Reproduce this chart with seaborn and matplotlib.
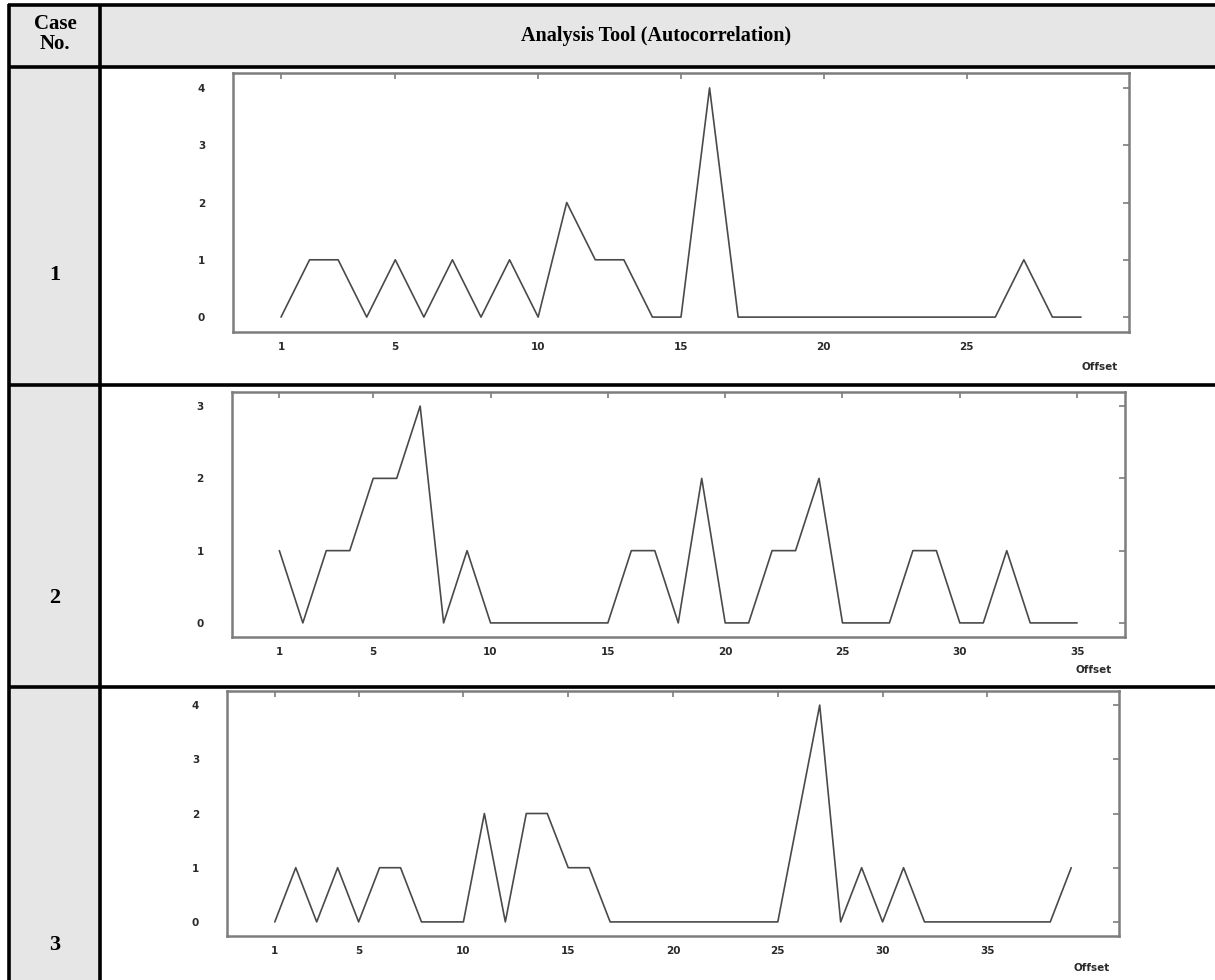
import numpy as np
import pandas as pd
import matplotlib
matplotlib.use("Agg")
import matplotlib.pyplot as plt
import seaborn as sns
from matplotlib.lines import Line2D
from matplotlib.patches import Rectangle

# ---- data ----
case1_offsets = list(range(1, 30))
case1_values = [0, 1, 1, 0, 1, 0, 1, 0, 1, 0, 2, 1, 1, 0, 0, 4, 0, 0, 0, 0,
                0, 0, 0, 0, 0, 0, 1, 0, 0]
case2_offsets = list(range(1, 36))
case2_values = [1, 0, 1, 1, 2, 2, 3, 0, 1, 0, 0, 0, 0, 0, 0, 1, 1, 0, 2, 0,
                0, 1, 1, 2, 0, 0, 0, 1, 1, 0, 0, 1, 0, 0, 0]
case3_offsets = list(range(1, 40))
case3_values = [0, 1, 0, 1, 0, 1, 1, 0, 0, 0, 2, 0, 2, 2, 1, 1, 0, 0, 0, 0,
                0, 0, 0, 0, 0, 2, 4, 0, 1, 0, 1, 0, 0, 0, 0, 0, 0, 0, 1]
case1_xticks = [1, 5, 10, 15, 20, 25]
case2_xticks = [1, 5, 10, 15, 20, 25, 30, 35]
case3_xticks = [1, 5, 10, 15, 20, 25, 30, 35]
case1_yticks = [0, 1, 2, 3, 4]
case2_yticks = [0, 1, 2, 3]
case3_yticks = [0, 1, 2, 3, 4]
case_labels = ["1", "2", "3"]
header_left = "Case\nNo."
header_right = "Analysis Tool (Autocorrelation)"
x_label = "Offset"

sns.set_theme(style="white")
plt.rcParams['font.family'] = ['DejaVu Sans']

W, H = 1215, 980
fig = plt.figure(figsize=(W / 100, H / 100), dpi=100)
fig.patch.set_facecolor("white")

def fx(px):
    return px / W

def fy(py):
    return 1 - py / H

# ---- table background ----
GRAY = "#e6e6e6"
fig.patches.append(Rectangle((fx(9), fy(67)), fx(W - 9), (67 - 5) / H,
                             transform=fig.transFigure, facecolor=GRAY,
                             edgecolor="none", zorder=0))
fig.patches.append(Rectangle((fx(9), 0), fx(100 - 9), fy(67),
                             transform=fig.transFigure, facecolor=GRAY,
                             edgecolor="none", zorder=0))

def hline(y, x0, x1, lw=2.6):
    fig.lines.append(Line2D([fx(x0), fx(x1)], [fy(y), fy(y)],
                            transform=fig.transFigure, color="black", lw=lw,
                            solid_capstyle="butt", zorder=5))

def vline(x, y0, y1, lw=2.6):
    fig.lines.append(Line2D([fx(x), fx(x)], [fy(y0), fy(y1)],
                            transform=fig.transFigure, color="black", lw=lw,
                            solid_capstyle="butt", zorder=5))

hline(5, 8, W)
hline(67, 8, W)
hline(385, 8, W)
hline(687, 8, W)
vline(9, 4, H)
vline(100, 4, H)

serif = ['Liberation Serif', 'DejaVu Serif']
fig.text(fx(55), fy(34), header_left, ha="center", va="center",
         fontsize=15, fontweight="bold", family=serif, linespacing=1.05,
         color="black")
fig.text(fx(656), fy(36), header_right, ha="center", va="center",
         fontsize=14.5, fontweight="bold", family=serif, color="black")
for lab, yy in zip(case_labels, [275, 598, 945]):
    fig.text(fx(55), fy(yy), lab, ha="center", va="center",
             fontsize=16, fontweight="bold", family=serif, color="black")

# ---- charts ----
charts = [
    (case1_offsets, case1_values, case1_xticks, case1_yticks, (233, 1129, 73, 332), (1100, 367)),
    (case2_offsets, case2_values, case2_xticks, case2_yticks, (231.5, 1125, 392, 637), (1094, 670)),
    (case3_offsets, case3_values, case3_xticks, case3_yticks, (227, 1119, 691, 936), (1092, 968)),
]
FRAME = "#7d7d7d"
LINE = "#4a4a4a"
for offs, vals, xt, yt, (l, r, t, b), (ox, oy) in charts:
    ax = fig.add_axes([fx(l), fy(b), (r - l) / W, (b - t) / H])
    df = pd.DataFrame({"Offset": offs, "Value": vals})
    sns.lineplot(data=df, x="Offset", y="Value", ax=ax, color=LINE, lw=1.2)
    ax.set_xmargin(0.06)
    ax.set_ymargin(0.065)
    ax.autoscale_view()
    ax.set_xticks(xt)
    ax.set_yticks(yt)
    ax.set_xlabel("")
    ax.set_ylabel("")
    ax.set_facecolor("white")
    for s in ax.spines.values():
        s.set_color(FRAME)
        s.set_linewidth(1.8)
        s.set_visible(True)
    ax.tick_params(axis="both", direction="in", length=4, width=1.2,
                   color=FRAME, top=True, right=True, labelsize=7.5,
                   labelcolor="#2a2a2a")
    ax.tick_params(axis="y", pad=20)
    ax.tick_params(axis="x", pad=7)
    for lab in ax.get_xticklabels() + ax.get_yticklabels():
        lab.set_fontweight("bold")
    fig.text(fx(ox), fy(oy), x_label, ha="center", va="center",
             fontsize=7.5, fontweight="bold", color="#2a2a2a")

fig.savefig("out.png", dpi=100)
